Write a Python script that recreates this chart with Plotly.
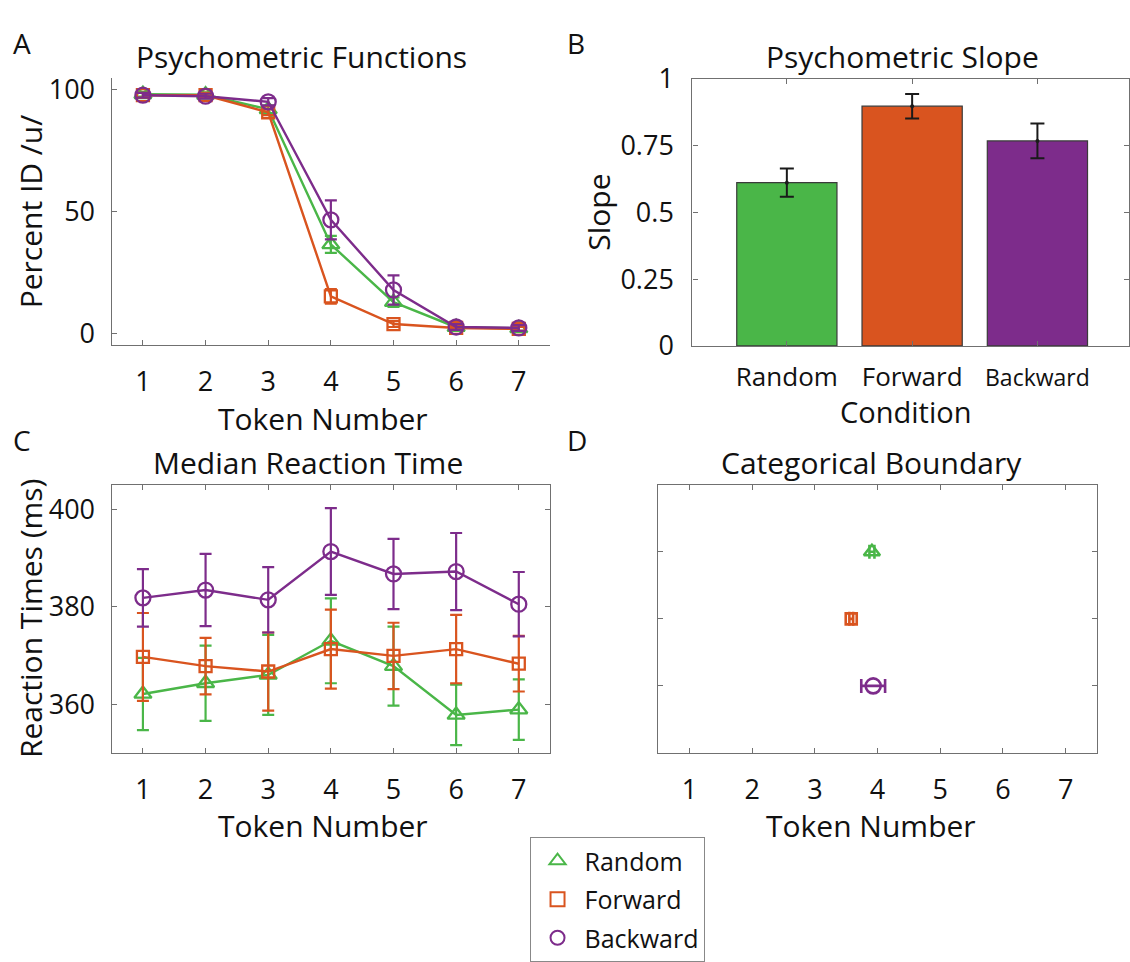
import plotly.graph_objects as go

# ---------------- data ----------------
tokens = [1, 2, 3, 4, 5, 6, 7]
conditions = ["Random", "Forward", "Backward"]

pid_random = [98.2, 98.0, 92.0, 36.5, 12.8, 2.5, 2.0]
pid_random_err = [1.0, 1.0, 1.5, 3.5, 2.0, 1.0, 1.0]
pid_forward = [97.8, 97.8, 90.8, 15.2, 3.8, 2.2, 1.8]
pid_forward_err = [1.0, 1.0, 1.2, 3.0, 1.2, 0.8, 0.8]
pid_backward = [97.8, 97.4, 95.1, 46.6, 17.8, 2.6, 2.2]
pid_backward_err = [1.0, 1.0, 1.5, 8.0, 6.0, 1.2, 1.2]

slope = [0.611, 0.897, 0.767]
slope_err = [0.053, 0.046, 0.065]

rt_random = [362.1, 364.3, 366.0, 373.0, 367.8, 357.8, 358.9]
rt_random_err = [7.4, 7.7, 8.2, 8.7, 8.1, 6.2, 6.2]
rt_forward = [369.7, 367.8, 366.7, 371.3, 369.9, 371.3, 368.3]
rt_forward_err = [9.0, 5.8, 8.0, 8.1, 6.8, 7.0, 5.7]
rt_backward = [381.8, 383.4, 381.4, 391.3, 386.7, 387.2, 380.5]
rt_backward_err = [5.9, 7.4, 6.7, 8.9, 7.2, 7.9, 6.6]

boundary = [3.91, 3.58, 3.93]
boundary_err = [0.04, 0.03, 0.19]
boundary_row = [1, 2, 3]

# ---------------- style ----------------
GREEN = "#4AB648"
ORANGE = "#D9541F"
PURPLE = "#7D2C8B"
COLORS = [GREEN, ORANGE, PURPLE]
SYMBOLS = ["triangle-up-open", "square-open", "circle-open"]
MSIZE = [15, 12, 15]
FONT = "Open Sans"
AX = "#707070"
W, H = 1130, 962


def px(x):
    return x / W


def py(y):
    return 1 - y / H


fig = go.Figure()

# Panel A
for name, y, e, c, s, ms in zip(conditions,
                                [pid_random, pid_forward, pid_backward],
                                [pid_random_err, pid_forward_err, pid_backward_err],
                                COLORS, SYMBOLS, MSIZE):
    fig.add_trace(go.Scatter(
        x=tokens, y=y, mode="lines+markers", showlegend=False,
        line=dict(color=c, width=2.4),
        marker=dict(symbol=s, size=ms, color=c, line=dict(width=2.3, color=c)),
        error_y=dict(type="data", array=e, color=c, thickness=2.2, width=6),
        xaxis="x", yaxis="y"))

# Panel B
fig.add_trace(go.Bar(
    x=[0, 1, 2], y=slope, width=0.8, showlegend=False,
    marker=dict(color=COLORS, line=dict(color="#3a3a3a", width=1.2)),
    xaxis="x2", yaxis="y2"))
fig.add_trace(go.Scatter(
    x=[0, 1, 2], y=slope, mode="markers", showlegend=False,
    marker=dict(color="#1a1a1a", size=4),
    error_y=dict(type="data", array=slope_err, color="#1a1a1a", thickness=2, width=7),
    xaxis="x2", yaxis="y2"))

# Panel C
for name, y, e, c, s, ms in zip(conditions,
                                [rt_random, rt_forward, rt_backward],
                                [rt_random_err, rt_forward_err, rt_backward_err],
                                COLORS, SYMBOLS, MSIZE):
    fig.add_trace(go.Scatter(
        x=tokens, y=y, mode="lines+markers", showlegend=False,
        line=dict(color=c, width=2.4),
        marker=dict(symbol=s, size=ms, color=c, line=dict(width=2.3, color=c)),
        error_y=dict(type="data", array=e, color=c, thickness=2.2, width=6),
        xaxis="x3", yaxis="y3"))

# Panel D
for i in range(3):
    fig.add_trace(go.Scatter(
        x=[boundary[i]], y=[boundary_row[i]], mode="markers", showlegend=False,
        marker=dict(symbol=SYMBOLS[i], size=[14, 11, 15][i], color=COLORS[i],
                    line=dict(width=2.6, color=COLORS[i])),
        error_x=dict(type="data", array=[boundary_err[i]], color=COLORS[i],
                     thickness=2.6, width=7),
        xaxis="x4", yaxis="y4"))

# Legend entries
for name, c, s in zip(conditions, COLORS, SYMBOLS):
    fig.add_trace(go.Scatter(
        x=[None], y=[None], mode="markers", name=name, legendgroup=name,
        marker=dict(symbol=s, size=14, color=c, line=dict(width=2, color=c)),
        xaxis="x4", yaxis="y4"))

tickfont = dict(family=FONT, size=27, color="#111111")
common = dict(showline=True, linecolor=AX, linewidth=1.3, ticks="inside",
              ticklen=5, tickcolor=AX, tickwidth=1, showgrid=False,
              zeroline=False, tickfont=tickfont)
commonB = dict(common)
commonB["tickfont"] = dict(family=FONT, size=26, color="#111111")

A_x = [px(111.7), px(550.6)]
A_y = [py(338.5), py(60)]
B_x = [px(693), 1.0]
B_y = [py(339), py(61)]
C_x = [px(111.7), px(550.6)]
C_y = [py(762.3), py(483.3)]
D_x = [px(658.7), px(1098)]
D_y = [py(762.3), py(483.3)]

layout = dict(
    width=W, height=H, margin=dict(l=0, r=0, t=0, b=0),
    paper_bgcolor="white", plot_bgcolor="white",
    font=dict(family=FONT, color="#111111"),
    xaxis=dict(domain=A_x, anchor="y", range=[0.5, 7.5], tickvals=tokens,
               ticklabelstandoff=12, **common),
    yaxis=dict(domain=A_y, anchor="x", range=[-5, 105], tickvals=[0, 50, 100],
               ticklabelstandoff=10, **common),
    xaxis2=dict(domain=B_x, anchor="y2", range=[-0.754, 2.731], tickvals=[0, 1, 2],
                ticktext=["Random", "Forward",
                          "<span style='font-size:23px'>Backward</span>"],
                mirror="ticks", ticklabelstandoff=8, **commonB),
    yaxis2=dict(domain=B_y, anchor="x2", range=[0, 1],
                tickvals=[0, 0.25, 0.5, 0.75, 1],
                ticktext=["0", "0.25", "0.5", "0.75", "1"],
                mirror="ticks", ticklabelstandoff=12, **common),
    xaxis3=dict(domain=C_x, anchor="y3", range=[0.5, 7.5], tickvals=tokens,
                mirror="ticks", ticklabelstandoff=12, **common),
    yaxis3=dict(domain=C_y, anchor="x3", range=[350, 405], tickvals=[360, 380, 400],
                mirror="ticks", ticklabelstandoff=10, **common),
    xaxis4=dict(domain=D_x, anchor="y4", range=[0.5, 7.5], tickvals=tokens,
                mirror="ticks", ticklabelstandoff=12, **common),
    yaxis4=dict(domain=D_y, anchor="x4", range=[4, 0], tickvals=[1, 2, 3],
                showticklabels=False, mirror="ticks", **common),
    legend=dict(x=px(530), y=py(850), xanchor="left", yanchor="top",
                bordercolor="#888888", borderwidth=1, bgcolor="white",
                font=dict(family=FONT, size=25, color="#111111"),
                itemsizing="trace", itemwidth=44, tracegroupgap=3,
                traceorder="grouped"),
    bargap=0.2,
)
fig.update_layout(**layout)


def ann(text, x, y, size, angle=0):
    fig.add_annotation(text=text, x=px(x), y=py(y), xref="paper", yref="paper",
                       xanchor="center", yanchor="middle", showarrow=False,
                       textangle=angle,
                       font=dict(family=FONT, size=size, color="#111111"))


ann("A", 22, 24, 28)
ann("B", 577, 24, 28)
ann("C", 22, 437, 28)
ann("D", 578, 437, 28)
ann("Psychometric Functions", 302, 38, 30)
ann("Psychometric Slope", 903, 38, 30)
ann("Median Reaction Time", 308, 460, 30)
ann("Categorical Boundary", 872, 460, 30)
ann("Percent ID /u/", 30, 199, 30, -90)
ann("Slope", 599, 200, 30, -90)
ann("Reaction Times (ms)", 30, 622, 30, -90)
ann("Token Number", 323, 414, 30)
ann("Token Number", 323, 838, 30)
ann("Token Number", 872, 838, 30)
ann("Condition", 906, 407, 29)

fig.write_html("out.html")
